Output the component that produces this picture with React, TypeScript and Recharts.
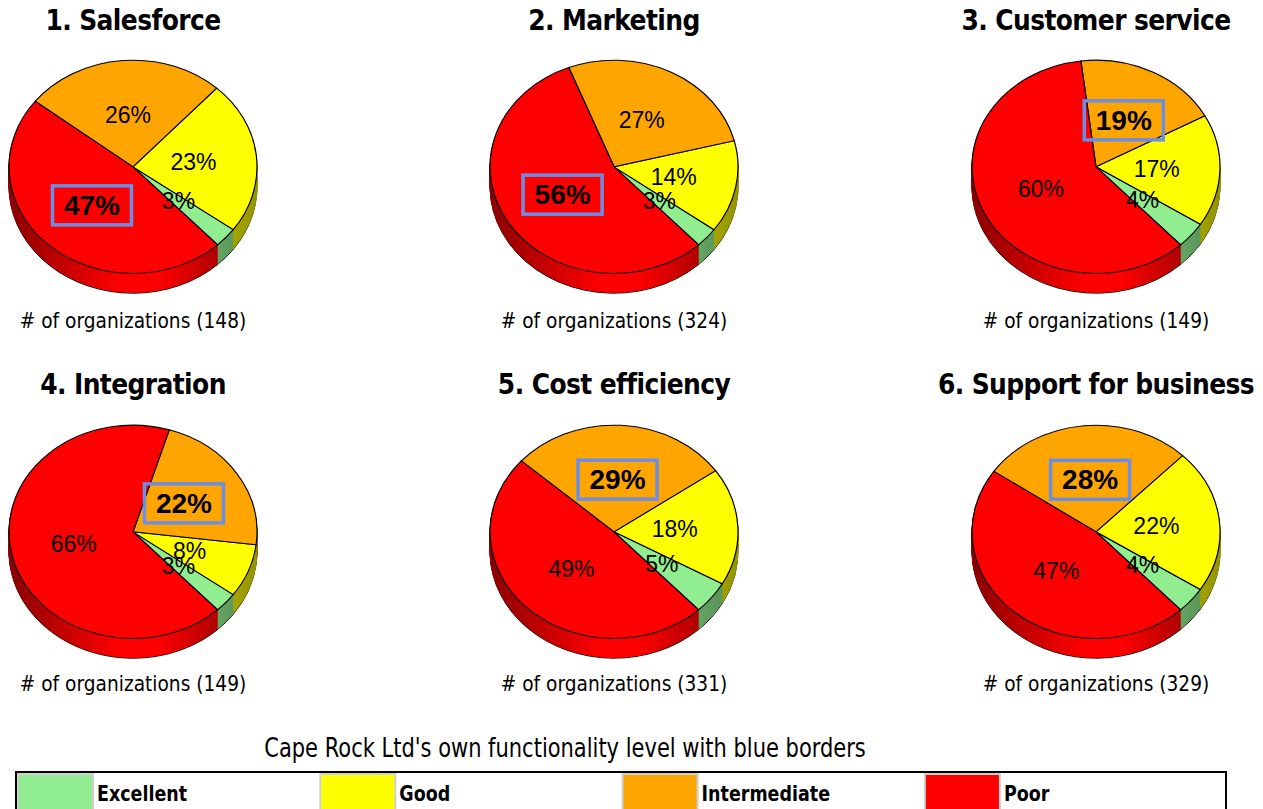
import { PieChart, Pie, Cell } from "recharts";

// answer categories and their colours
const CATEGORIES = ["Excellent", "Good", "Intermediate", "Poor"];
const COLORS = ["#90EE90", "#FFFF00", "#FFA500", "#FF0000"];

// share of organizations per level (%), order follows CATEGORIES
const SALESFORCE = [3, 23, 26, 47];
const MARKETING = [3, 14, 27, 56];
const CUSTOMER_SERVICE = [4, 17, 19, 60];
const INTEGRATION = [3, 8, 22, 66];
const COST_EFFICIENCY = [5, 18, 29, 49];
const SUPPORT_FOR_BUSINESS = [4, 22, 28, 47];

const TITLES = [
  "1. Salesforce",
  "2. Marketing",
  "3. Customer service",
  "4. Integration",
  "5. Cost efficiency",
  "6. Support for business",
];
const SERIES = [SALESFORCE, MARKETING, CUSTOMER_SERVICE, INTEGRATION, COST_EFFICIENCY, SUPPORT_FOR_BUSINESS];
const ORG_COUNTS = [148, 324, 149, 149, 331, 329];
// Cape Rock Ltd's own level per area
const OWN_LEVEL = ["Poor", "Poor", "Intermediate", "Intermediate", "Intermediate", "Intermediate"];

const FOOTNOTE = "Cape Rock Ltd's own functionality level with blue borders";

// geometry
const TILT = 0.86; // vertical squash of the pie disc
const R = 124;
const DEPTH = 23; // side thickness in chart units (before tilt)
const CW = 260;
const CH = 284;
const CX = 130;
const CY = 130;
const START = -47;
const COL_X = [133, 614, 1096];
const ROW_Y = [167, 532];
const RAD = Math.PI / 180;

const LABEL_FONT = "'Liberation Sans', Arial, sans-serif";
const TEXT_FONT = "Tahoma, 'DejaVu Sans', sans-serif";

function shade(hex: string, f: number) {
  const n = parseInt(hex.slice(1), 16);
  const c = [(n >> 16) & 255, (n >> 8) & 255, n & 255].map((v) => Math.round(v * f));
  return `rgb(${c[0]},${c[1]},${c[2]})`;
}

const SIDE_STOPS: [number, number][] = [
  [0, 0.55],
  [0.45, 1],
  [0.6, 1],
  [0.85, 0.68],
  [1, 0.58],
];

// text drawn a little taller than the font's own proportions
function TallText({ x, y, sy, size, bold, anchor = "middle", children }: any) {
  return (
    <text
      transform={`translate(${x},${y}) scale(1,${sy})`}
      textAnchor={anchor}
      fontFamily={TEXT_FONT}
      fontWeight={bold ? 700 : 400}
      fontSize={size}
      fill="#000"
    >
      {children}
    </text>
  );
}

function Pie3D({ idx }: { idx: number }) {
  const rows = CATEGORIES.map((name, i) => ({ name, value: SERIES[idx][i] }));
  const own = CATEGORIES.indexOf(OWN_LEVEL[idx]);
  const cx = COL_X[idx % 3];
  const cy = ROW_Y[Math.floor(idx / 3)];

  const renderLabel = (props: any) => {
    const { cx: px, cy: py, midAngle, outerRadius, index } = props;
    const r = outerRadius * 0.49;
    const x = px + r * Math.cos(-midAngle * RAD);
    const y = py + r * Math.sin(-midAngle * RAD);
    const boxed = index === own;
    return (
      <g key={`lbl-${index}`} transform={`translate(${x},${y}) scale(1,${1 / TILT})`}>
        {boxed && (
          <rect x={-39.5} y={-19.5} width={79} height={39} fill="none" stroke="#6b8ee6" strokeWidth={3.5} />
        )}
        <text
          textAnchor="middle"
          dominantBaseline="central"
          fontFamily={LABEL_FONT}
          fontSize={boxed ? 28 : 23}
          fontWeight={boxed ? 700 : 400}
          fill="#000"
        >
          {rows[index].value}%
        </text>
      </g>
    );
  };

  const layers = Array.from({ length: DEPTH }, (_, i) => DEPTH - i);

  return (
    <div
      style={{
        position: "absolute",
        left: cx - CX,
        top: cy - CY * TILT,
        width: CW,
        height: CH,
        transform: `scaleY(${TILT})`,
        transformOrigin: "0 0",
      }}
    >
      <PieChart width={CW} height={CH} margin={{ top: 0, right: 0, bottom: 0, left: 0 }}>
        <defs>
          {COLORS.map((c, j) => (
            <linearGradient
              key={j}
              id={`side-${idx}-${j}`}
              gradientUnits="userSpaceOnUse"
              x1={CX - R}
              x2={CX + R}
              y1={0}
              y2={0}
            >
              {SIDE_STOPS.map(([o, f]) => (
                <stop key={o} offset={o} stopColor={shade(c, f)} />
              ))}
            </linearGradient>
          ))}
        </defs>
        {layers.map((d) => (
          <Pie
            key={`side-${d}`}
            data={rows}
            dataKey="value"
            cx={CX}
            cy={CY + d}
            outerRadius={R}
            startAngle={START}
            endAngle={START + 360}
            isAnimationActive={false}
            labelLine={false}
          >
            {rows.map((_, j) => (
              <Cell
                key={j}
                fill={`url(#side-${idx}-${j})`}
                stroke={d === DEPTH ? "#000" : `url(#side-${idx}-${j})`}
                strokeWidth={1}
              />
            ))}
          </Pie>
        ))}
        <Pie
          data={rows}
          dataKey="value"
          cx={CX}
          cy={CY}
          outerRadius={R}
          startAngle={START}
          endAngle={START + 360}
          isAnimationActive={false}
          labelLine={false}
          label={renderLabel}
        >
          {rows.map((_, j) => (
            <Cell key={j} fill={COLORS[j]} stroke="#000" strokeWidth={1.2} />
          ))}
        </Pie>
      </PieChart>
    </div>
  );
}

export default function App() {
  return (
    <div style={{ position: "absolute", left: 0, top: 0, width: 1263, height: 809, background: "#fff" }}>
      <svg width={1263} height={809} style={{ position: "absolute", left: 0, top: 0 }}>
        {TITLES.map((t, i) => (
          <TallText key={t} x={COL_X[i % 3]} y={i < 3 ? 30 : 394} sy={1.1} size={25} bold>
            <tspan letterSpacing={-0.6}>{t}</tspan>
          </TallText>
        ))}
        {ORG_COUNTS.map((n, i) => (
          <TallText key={`n-${i}`} x={COL_X[i % 3]} y={i < 3 ? 328 : 691} sy={1.18} size={18.6}>
            # of organizations ({n})
          </TallText>
        ))}
        <TallText x={565} y={757} sy={1.3} size={21}>
          {FOOTNOTE}
        </TallText>
        <rect x={16} y={772} width={1210} height={60} fill="#fff" stroke="#000" strokeWidth={2} />
        {CATEGORIES.map((c, i) => {
          const x0 = 18 + i * 302.3;
          return (
            <g key={c}>
              <rect x={x0} y={774} width={75} height={40} fill={COLORS[i]} stroke="#cfcfcf" strokeWidth={2} />
              <TallText x={x0 + 79} y={801} sy={1.18} size={17.5} bold anchor="start">
                {c}
              </TallText>
            </g>
          );
        })}
      </svg>
      {SERIES.map((_, i) => (
        <Pie3D key={i} idx={i} />
      ))}
    </div>
  );
}
